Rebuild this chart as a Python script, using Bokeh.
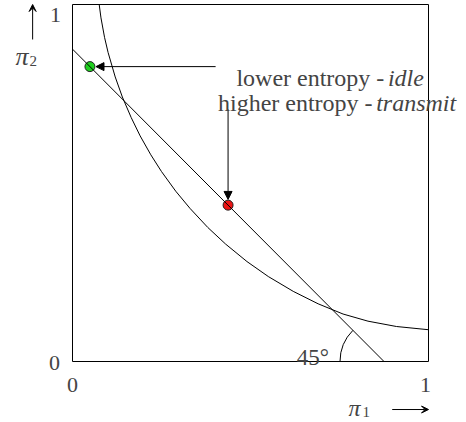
import math
from bokeh.plotting import figure
from bokeh.models import Label, Arrow, NormalHead, VeeHead, Range1d
from bokeh.embed import file_html
from bokeh.resources import INLINE

# ---- data ----
ticks = [0, 1]
tick_labels = ["0", "1"]

# constraint line  pi1 + pi2 = const
line_x = [0.0, 0.875]
line_y = [0.875, 0.0]

# curved contour
curve_x = [0.075, 0.08, 0.09, 0.10, 0.12, 0.14, 0.165, 0.19, 0.22, 0.25, 0.29, 0.33, 0.38, 0.43,
           0.49, 0.55, 0.62, 0.69, 0.76, 0.83, 0.91, 1.0]
curve_y = [1.0, 0.9625, 0.908, 0.8655, 0.797, 0.741, 0.683, 0.632, 0.579, 0.532, 0.477, 0.429, 0.3755, 0.329,
           0.280, 0.238, 0.1965, 0.1616, 0.133, 0.113, 0.098, 0.089]

# operating points
idle_pt = (0.049, 0.826)       # lower entropy - idle
transmit_pt = (0.437, 0.438)   # higher entropy - transmit

angle_text = "45°"
angle_deg = 45

FONT = "Liberation Serif"

W, H = 466, 422
# frame fills the whole canvas; unit box placed at px 72..428 (x), 361..4 (y from top)
sx, sy = 356.0, 357.0
p = figure(width=W, height=H, output_backend="svg", toolbar_location=None,
           x_range=Range1d(-72 / sx, 1 + (W - 428) / sx),
           y_range=Range1d(-(H - 361) / sy, 1 + 4 / sy),
           x_axis_location=None, y_axis_location=None, min_border=0)
p.grid.visible = False
p.outline_line_color = None
p.background_fill_color = "white"
p.border_fill_color = "white"

# unit box
p.quad(left=[ticks[0]], right=[ticks[1]], bottom=[ticks[0]], top=[ticks[1]],
       fill_color=None, line_color="black", line_width=1)

# curve
p.line(curve_x, curve_y, line_color="black", line_width=1, line_join="round")

# dots
p.scatter([idle_pt[0]], [idle_pt[1]], size=10, fill_color="#1fd01f", line_color="#222222", line_width=1)
p.scatter([transmit_pt[0]], [transmit_pt[1]], size=10, fill_color="#ee1515", line_color="#222222", line_width=1)

# line
p.line(line_x, line_y, line_color="black", line_width=1)

# 45 degree angle arc at x-intercept of the line
p.arc(x=[line_x[1]], y=[line_y[1]], radius=44, radius_units="screen",
      start_angle=math.pi - math.radians(angle_deg), end_angle=math.pi,
      line_color="black", line_width=1)
p.add_layout(Label(x=line_x[1], y=line_y[1], x_offset=-55, y_offset=4, text=angle_text,
                   text_font=FONT, text_font_size="23px", text_align="right",
                   text_baseline="alphabetic"))

# annotation arrows
p.add_layout(Arrow(end=NormalHead(size=8, fill_color="black", line_color="black", line_width=1),
                   x_start=0.402, y_start=idle_pt[1], x_end=idle_pt[0] + 0.017, y_end=idle_pt[1],
                   line_color="black", line_width=1))
p.add_layout(Arrow(end=NormalHead(size=8, fill_color="black", line_color="black", line_width=1),
                   x_start=transmit_pt[0], y_start=0.706, x_end=transmit_pt[0], y_end=transmit_pt[1] + 0.016,
                   line_color="black", line_width=1))

# annotation texts
tsz = "24px"
p.add_layout(Label(x=0.876, y=0.7955, text="lower entropy -", text_font=FONT, text_font_size=tsz,
                   text_align="right", text_baseline="alphabetic"))
p.add_layout(Label(x=0.886, y=0.7955, text="idle", text_font=FONT, text_font_size=tsz,
                   text_font_style="italic", text_align="left", text_baseline="alphabetic"))
p.add_layout(Label(x=0.843, y=0.7235, text="higher entropy -", text_font=FONT, text_font_size=tsz,
                   text_align="right", text_baseline="alphabetic"))
p.add_layout(Label(x=0.853, y=0.7235, text="transmit", text_font=FONT, text_font_size=tsz,
                   text_font_style="italic", text_align="left", text_baseline="alphabetic"))

# tick labels
dsz = "22px"
p.add_layout(Label(x=ticks[0], y=ticks[0], x_offset=0, y_offset=-23, text=tick_labels[0], text_font=FONT,
                   text_font_size=dsz, text_align="center", text_baseline="middle"))
p.add_layout(Label(x=ticks[1], y=ticks[0], x_offset=-3, y_offset=-23, text=tick_labels[1], text_font=FONT,
                   text_font_size=dsz, text_align="center", text_baseline="middle"))
p.add_layout(Label(x=ticks[0], y=ticks[0], x_offset=-18, y_offset=-1, text=tick_labels[0], text_font=FONT,
                   text_font_size=dsz, text_align="center", text_baseline="middle"))
p.add_layout(Label(x=ticks[0], y=ticks[1], x_offset=-17, y_offset=-10, text=tick_labels[1], text_font=FONT,
                   text_font_size=dsz, text_align="center", text_baseline="middle"))

# axis names with arrows
p.add_layout(Label(x=0, y=0, x_offset=276, y_offset=-46, text="π", text_font=FONT,
                   text_font_size="24px", text_font_style="italic", text_align="left", text_baseline="middle"))
p.add_layout(Label(x=0, y=0, x_offset=290, y_offset=-50, text="1", text_font=FONT,
                   text_font_size="15px", text_align="left", text_baseline="middle"))
p.add_layout(Arrow(end=VeeHead(size=7, fill_color="black", line_color="black", line_width=1),
                   x_start=0.898, y_start=-0.1345, x_end=1.0, y_end=-0.1345,
                   line_color="black", line_width=1))

p.add_layout(Label(x=0, y=1, x_offset=-57, y_offset=-52, text="π", text_font=FONT,
                   text_font_size="26px", text_font_style="italic", text_align="left", text_baseline="middle"))
p.add_layout(Label(x=0, y=1, x_offset=-43, y_offset=-56, text="2", text_font=FONT,
                   text_font_size="15px", text_align="left", text_baseline="middle"))
p.add_layout(Arrow(end=VeeHead(size=7, fill_color="black", line_color="black", line_width=1),
                   x_start=-0.112, y_start=0.902, x_end=-0.112, y_end=1.0,
                   line_color="black", line_width=1))

open("out.html", "w").write(file_html(p, INLINE))
